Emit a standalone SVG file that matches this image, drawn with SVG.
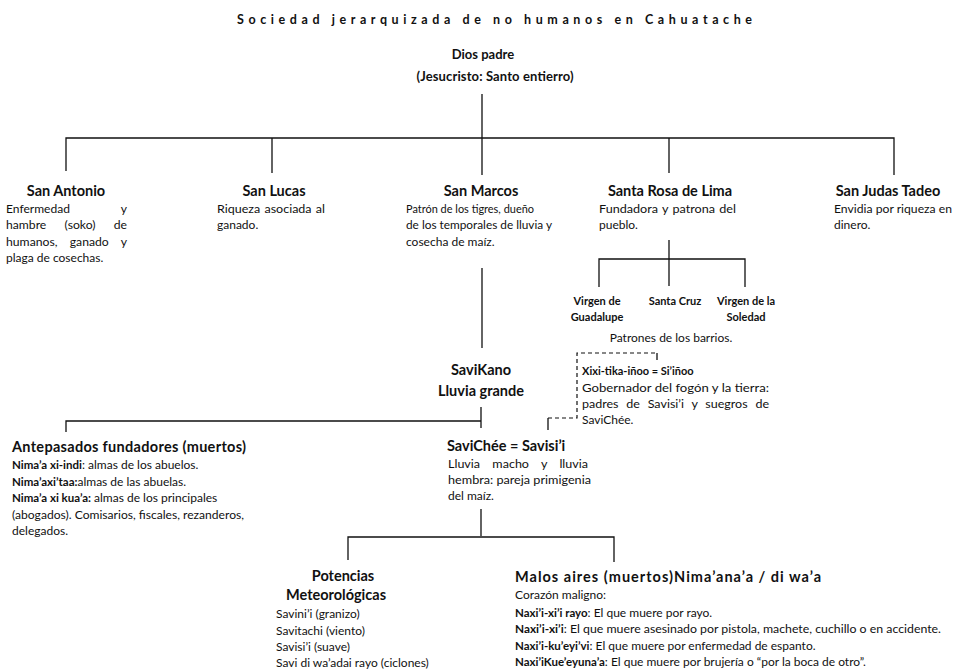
<svg xmlns="http://www.w3.org/2000/svg" width="956" height="669" viewBox="0 0 956 669">
<style>
text{font-family:Lato,"Open Sans","Liberation Sans",sans-serif;fill:#111}
.t{font-size:12.5px;font-weight:700}
.h{font-size:14.5px;font-weight:700}
.m{font-size:13px;font-weight:700}
.d{font-size:12px}
.v{font-size:11px;font-weight:700}
.b{font-weight:700;font-size:11.5px}
.c{text-anchor:middle}
.ln{stroke:#111;stroke-width:1.3;fill:none}
.dl{stroke:#111;stroke-width:1.2;fill:none;stroke-dasharray:4 3}
</style>
<rect width="956" height="669" fill="#fff"/>
<text id="title" class="t" x="237" y="24" textLength="515" lengthAdjust="spacing">Sociedad jerarquizada de no humanos en Cahuatache</text>

<g id="connectors">
<path class="ln" d="M482 94 V175 M66 171 V138 H894 V175 M272 138 V173 M669 138 V173"/>
<path class="ln" d="M482 268 V348"/>
<path class="ln" d="M669 240 V259 M599 287 V259 H745 V287 M669 259 V286"/>
<path class="ln" d="M481 407 V428 M66 432 V421 H481"/>
<path class="dl" d="M548 418 H577 V353 H657"/>
<path class="ln" d="M657 353 V360 M548 418 V430"/>
<path class="ln" d="M481 509 V536 M348 560 V537 H614 V562"/>
</g>

<g id="dios">
<text class="m c" x="483" y="59">Dios padre</text>
<text class="m c" x="495" y="81" textLength="157">(Jesucristo: Santo entierro)</text>
</g>

<g id="san-antonio">
<text class="h c" x="66" y="196">San Antonio</text>
<text class="d" x="6" y="213" word-spacing="48" textLength="121" lengthAdjust="spacingAndGlyphs">Enfermedad y</text>
<text class="d" x="6" y="229" word-spacing="15" textLength="121" lengthAdjust="spacingAndGlyphs">hambre (soko) de</text>
<text class="d" x="6" y="246" word-spacing="9" textLength="121" lengthAdjust="spacingAndGlyphs">humanos, ganado y</text>
<text class="d" x="6" y="262">plaga de cosechas.</text>
</g>

<g id="san-lucas">
<text class="h c" x="274" y="196">San Lucas</text>
<text class="d" x="217" y="213" word-spacing="1" textLength="108" lengthAdjust="spacingAndGlyphs">Riqueza asociada al</text>
<text class="d" x="217" y="229">ganado.</text>
</g>

<g id="san-marcos">
<text class="h c" x="481" y="196">San Marcos</text>
<text class="d" x="406" y="213" textLength="128" lengthAdjust="spacingAndGlyphs">Patrón de los tigres, dueño</text>
<text class="d" x="406" y="229" textLength="146" lengthAdjust="spacingAndGlyphs">de los temporales de lluvia y</text>
<text class="d" x="406" y="246">cosecha de maíz.</text>
</g>

<g id="santa-rosa">
<text class="h c" x="670" y="196">Santa Rosa de Lima</text>
<text class="d" x="599" y="213" word-spacing="1" textLength="137" lengthAdjust="spacingAndGlyphs">Fundadora y patrona del</text>
<text class="d" x="599" y="229">pueblo.</text>
</g>

<g id="san-judas">
<text class="h c" x="888" y="196">San Judas Tadeo</text>
<text class="d" x="834" y="213" textLength="118" lengthAdjust="spacingAndGlyphs">Envidia por riqueza en</text>
<text class="d" x="834" y="229">dinero.</text>
</g>

<g id="virgen-guadalupe">
<text class="v c" x="597" y="305">Virgen de</text>
<text class="v c" x="597" y="321">Guadalupe</text>
</g>
<g id="santa-cruz">
<text class="v c" x="675" y="305">Santa Cruz</text>
</g>
<g id="virgen-soledad">
<text class="v c" x="746" y="305">Virgen de la</text>
<text class="v c" x="746" y="321">Soledad</text>
</g>
<g id="patrones">
<text class="d c" x="671" y="342">Patrones de los barrios.</text>
</g>

<g id="savikano">
<text class="h c" x="481" y="375">SaviKano</text>
<text class="h c" x="481" y="396">Lluvia grande</text>
</g>

<g id="xixi">
<text class="v" x="582" y="375">Xixi-tika-iñoo = Si’iñoo</text>
<text class="d" x="582" y="392" textLength="187" lengthAdjust="spacingAndGlyphs">Gobernador del fogón y la tierra:</text>
<text class="d" x="582" y="408" word-spacing="4.4" textLength="187" lengthAdjust="spacingAndGlyphs">padres de Savisi’i y suegros de</text>
<text class="d" x="582" y="424">SaviChée.</text>
</g>

<g id="antepasados">
<text class="h" x="12" y="452" textLength="234">Antepasados fundadores (muertos)</text>
<text class="d" x="12" y="469"><tspan class="b">Nima’a xi-indi</tspan>: almas de los abuelos.</text>
<text class="d" x="12" y="486"><tspan class="b">Nima’axi’taa:</tspan>almas de las abuelas.</text>
<text class="d" x="12" y="502"><tspan class="b">Nima’a xi kua’a:</tspan> almas de los principales</text>
<text class="d" x="12" y="519" textLength="232" lengthAdjust="spacingAndGlyphs">(abogados). Comisarios, fiscales, rezanderos,</text>
<text class="d" x="12" y="535">delegados.</text>
</g>

<g id="savichee">
<text class="h" x="447" y="451">SaviChée = Savisi’i</text>
<text class="d" x="448" y="468" word-spacing="8.7" textLength="140" lengthAdjust="spacingAndGlyphs">Lluvia macho y lluvia</text>
<text class="d" x="448" y="484" textLength="143" lengthAdjust="spacingAndGlyphs">hembra: pareja primigenia</text>
<text class="d" x="448" y="500">del maíz.</text>
</g>

<g id="potencias">
<text class="h c" x="343" y="581">Potencias</text>
<text class="h c" x="336" y="600">Meteorológicas</text>
<text class="d" x="276" y="618">Savini’i (granizo)</text>
<text class="d" x="276" y="635">Savitachi (viento)</text>
<text class="d" x="276" y="651">Savisi’i (suave)</text>
<text class="d" x="276" y="667">Savi di wa’adai rayo (ciclones)</text>
</g>

<g id="malos-aires">
<text class="h" x="515" y="582" textLength="306">Malos aires (muertos)Nima’ana’a / di wa’a</text>
<text class="d" x="515" y="599">Corazón maligno:</text>
<text class="d" x="515" y="617"><tspan class="b">Naxi’i-xi’i rayo</tspan>: El que muere por rayo.</text>
<text class="d" x="515" y="633" textLength="426" lengthAdjust="spacingAndGlyphs"><tspan class="b">Naxi’i-xi’i</tspan>: El que muere asesinado por pistola, machete, cuchillo o en accidente.</text>
<text class="d" x="515" y="650"><tspan class="b">Naxi’i-ku’eyi’vi</tspan>: El que muere por enfermedad de espanto.</text>
<text class="d" x="515" y="666"><tspan class="b">Naxi’iKue’eyuna’a</tspan>: El que muere por brujería o “por la boca de otro”.</text>
</g>
</svg>
